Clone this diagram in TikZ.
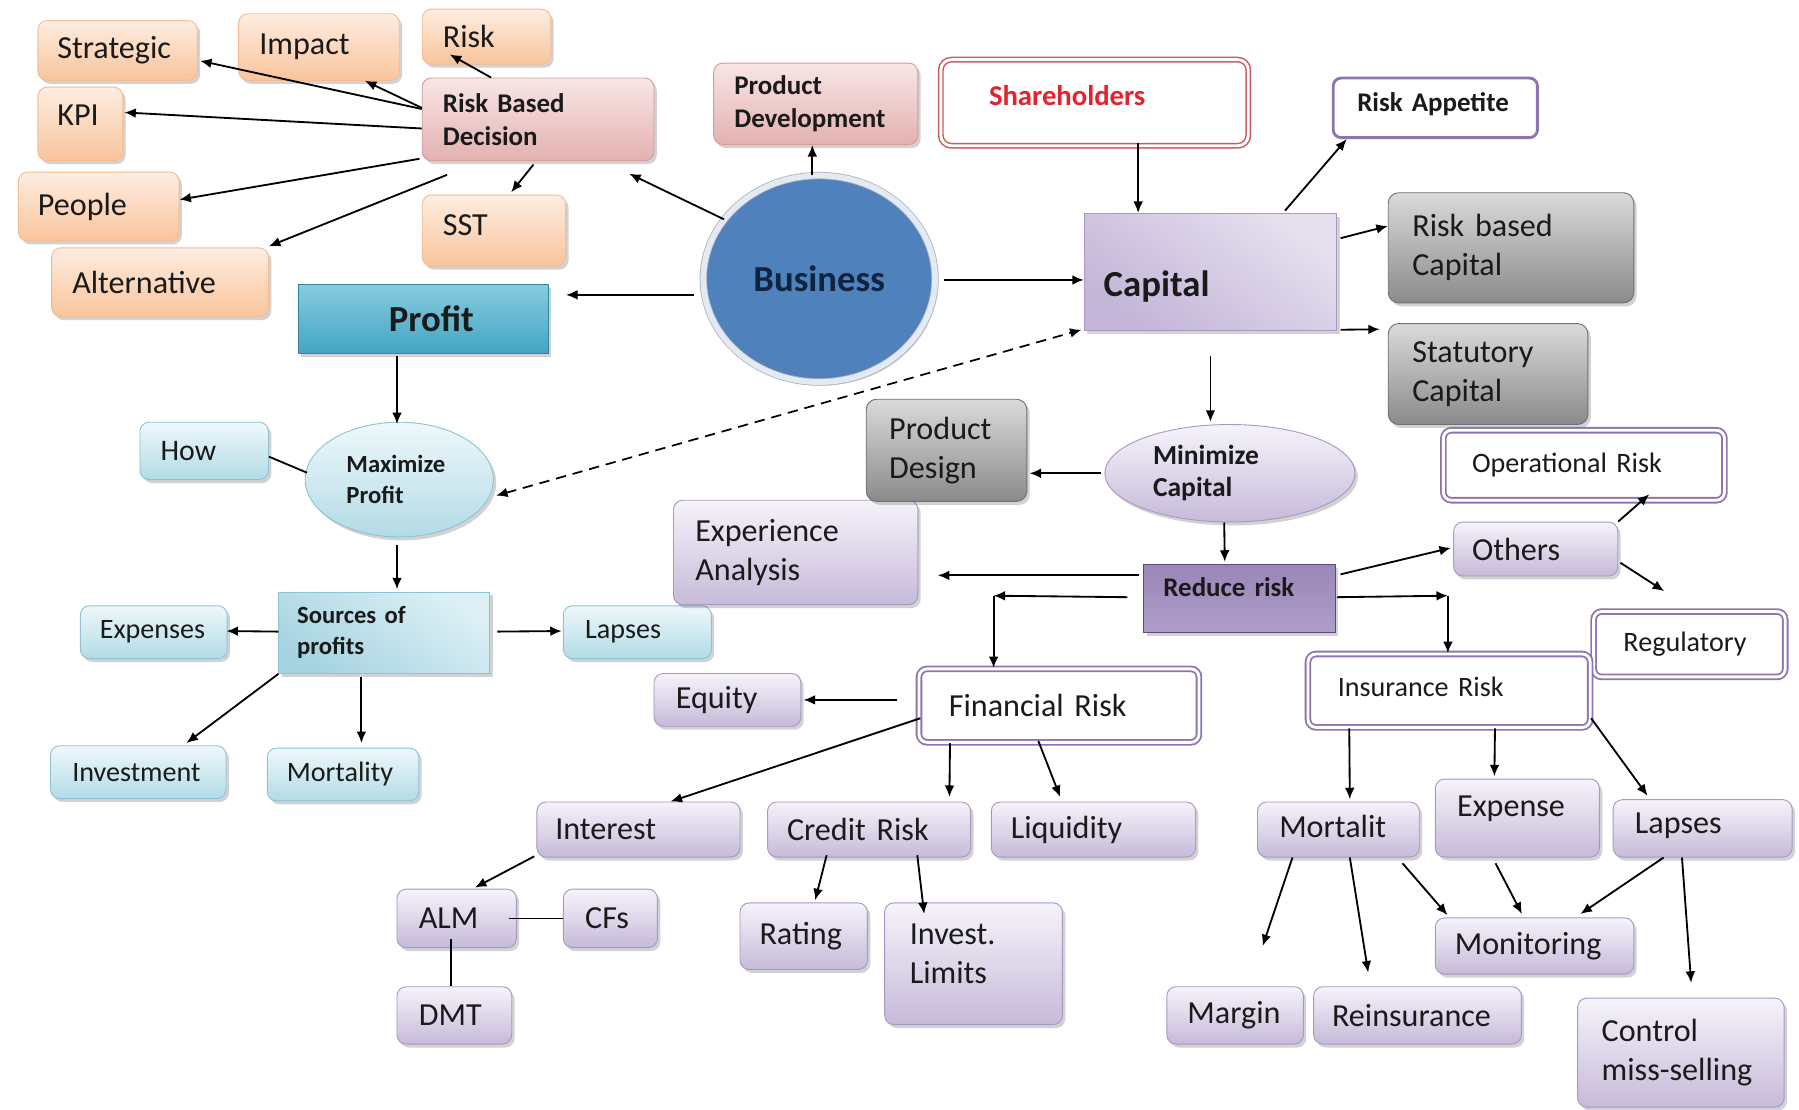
\documentclass[tikz,border=0pt]{standalone}
\usepackage{fontspec}
\setmainfont{Carlito}
\usetikzlibrary{shapes.geometric,arrows.meta,calc,shadows}
\newcommand\liftt[2]{\raisebox{#1}[\height][\depth]{#2}}
\newcommand\fR{\fontsize{28}{34}\selectfont}
\newcommand\fS{\fontsize{24.5}{30}\selectfont}
\newcommand\fB{\fontsize{23.5}{29}\selectfont\bfseries}
\newcommand\fBS{\fontsize{21.5}{27}\selectfont\bfseries}
\newcommand\fBIG{\fontsize{32}{38}\selectfont\bfseries}
\definecolor{txt}{HTML}{1A1A1A}
\definecolor{orT}{HTML}{FDEDE1}
\definecolor{orB}{HTML}{F9C49B}
\definecolor{orD}{HTML}{F4BC92}
\definecolor{pkT}{HTML}{F9E6E6}
\definecolor{pkB}{HTML}{E3B1B0}
\definecolor{pkD}{HTML}{D49C9B}
\definecolor{grT}{HTML}{DADADA}
\definecolor{grM}{HTML}{F8F8F8}
\definecolor{grB}{HTML}{8A8A8A}
\definecolor{grD}{HTML}{707070}
\definecolor{lvT}{HTML}{F6F3FA}
\definecolor{lvB}{HTML}{C6BAD9}
\definecolor{lvD}{HTML}{A997C4}
\definecolor{blT}{HTML}{EEF8FB}
\definecolor{blB}{HTML}{B2DBE6}
\definecolor{blD}{HTML}{8EC3D4}
\definecolor{purD}{HTML}{8C75B0}
\definecolor{shR}{HTML}{C95B58}
\definecolor{shTxt}{HTML}{E3232B}
\definecolor{busF}{HTML}{4F81BD}
\definecolor{busT}{HTML}{0F2440}
\definecolor{busRing}{HTML}{E2EAF5}
\definecolor{capT}{HTML}{E6E0EF}
\definecolor{capB}{HTML}{C3B5D8}
\definecolor{prD}{HTML}{31859C}
\definecolor{prT}{HTML}{86CCDF}
\definecolor{prB}{HTML}{43A5C2}
\definecolor{srT}{HTML}{DDF0F6}
\definecolor{srB}{HTML}{A6D4E1}
\definecolor{rdD}{HTML}{5F497A}
\definecolor{rdT}{HTML}{9A86B8}
\definecolor{rdM}{HTML}{7A5F9F}
\definecolor{rdB}{HTML}{AE9DC9}
\tikzset{
  B/.style n args={3}{minimum height=#2, text width=#1-2*#3, inner xsep=#3, inner ysep=0pt, align=left},
  shd/.style={drop shadow={shadow xshift=2.5pt,shadow yshift=-3pt,opacity=0.25,fill=black!70}},
  orng/.style={rounded corners=8pt, draw=orD, line width=0.8pt, top color=orT, bottom color=orB, shd, text=txt, font=\fR},
  pinkst/.style={rounded corners=8pt, draw=pkD, line width=0.8pt, top color=pkT, bottom color=pkB, shd, text=txt},
  gry/.style={rounded corners=9pt, draw=grD, line width=0.8pt, top color=grT, middle color=grM, bottom color=grB, shd, text=txt, font=\fR},
  lav/.style={rounded corners=8pt, draw=lvD, line width=0.8pt, top color=lvT, bottom color=lvB, shd, text=txt, font=\fR},
  blu/.style={rounded corners=8pt, draw=blD, line width=0.8pt, top color=blT, bottom color=blB, shd, text=txt, font=\fS},
  dbl/.style={rounded corners=7pt, draw=purD, double=white, double distance=2.5pt, line width=1.6pt, fill=white, text=txt, font=\fR},
  dblr/.style={rounded corners=9pt, draw=shR, double=white, double distance=2.5pt, line width=1.3pt, fill=white},
  appst/.style={rounded corners=7pt, draw=purD, line width=2.5pt, fill=white, text=txt},
  capst/.style={draw=lvD, line width=0.8pt, top color=capT, bottom color=capB, shading angle=-35, shd, text=txt},
  profst/.style={draw=prD, line width=0.8pt, top color=prT, bottom color=prB, shd, text=txt},
  srcst/.style={draw=blD, line width=0.8pt, top color=srT, bottom color=srB, shading angle=-35, shd, text=txt},
  redst/.style={draw=rdD, line width=0.8pt, top color=rdT, middle color=rdM, bottom color=rdB, shd, text=txt},
  maxst/.style={ellipse, minimum width=164, minimum height=100, inner sep=0pt, text width=92, align=left, draw=blD, line width=0.8pt, top color=blT, bottom color=blB, shd, text=txt, font=\fBS},
  minst/.style={ellipse, minimum width=218, minimum height=85, inner sep=0pt, text width=134, align=left, draw=lvD, line width=0.8pt, top color=lvT, bottom color=lvB, shd, text=txt, font=\fontsize{24}{28}\selectfont\bfseries},
  busst/.style={ellipse, minimum width=202, minimum height=180, inner sep=0pt, fill=busF, draw=black!30, double=busRing, double distance=5pt, line width=0.7pt, shd, text=busT, font=\fBIG},
  arr/.style={draw=black, line width=1.6pt, -{Latex[length=10pt,width=8.5pt]}},
  ln/.style={draw=black, line width=1.6pt},
  dsh/.style={draw=black, line width=1.5pt, dash pattern=on 9pt off 6pt, {Latex[length=10pt,width=8.5pt]}-{Latex[length=10pt,width=8.5pt]}}
}
\begin{document}
\begin{tikzpicture}[x=1pt,y=-1pt]
\fill[white] (0,0) rectangle (1568,967);
\useasboundingbox (0,0) rectangle (1568,967);

% orange group
\node[orng,B={139}{52}{17}] (strat) at (102.5,44) {Strategic};
\node[orng,B={140}{58}{18}] (impact) at (278,41) {Impact};
\node[orng,B={112}{48}{18}] (risk) at (424,32) {Risk};
\node[orng,B={74}{64}{17}] (kpi) at (70,108) {\liftt{8pt}{KPI}};
\node[pinkst,B={202}{72}{18},font=\fB] (rbd) at (469,104) {Risk Based\\Decision};
\node[orng,B={140}{60}{17}] (people) at (86,180) {People};
\node[orng,B={125}{62}{18}] (sst) at (430.5,201) {\liftt{5pt}{SST}};
\node[orng,B={189}{60}{18}] (alt) at (139.5,246) {Alternative};

% top centre
\node[pinkst,B={178}{71}{18},font=\fB] (pdev) at (711,90.5) {Product\\Development};
\node[dblr,B={268}{75}{42},font=\fontsize{25}{30}\selectfont\bfseries,text=shTxt] (share) at (954,89.5) {\liftt{6pt}{Shareholders}};
\node[appst,B={178}{52}{21},font=\fB] (appet) at (1251,94) {\liftt{3pt}{Risk Appetite}};
\node[busst] (bus) at (714,243) {Business};
\node[capst,B={220}{102}{17},font=\fBIG] (cap) at (1055,237) {\liftt{-13pt}{Capital}};
\node[gry,B={214}{96}{21}] (rbc) at (1317,216) {Risk based\\Capital};
\node[gry,B={174}{88}{21}] (stat) at (1297,326) {Statutory\\Capital};

% profit branch
\node[profst,B={218}{60}{79},font=\fBIG] (profit) at (369,278) {Profit};
\node[maxst] (maxp) at (348,418) {Maximize\\Profit};
\node[blu,B={112}{50}{18},font=\fontsize{26}{31}\selectfont] (how) at (178,393) {How};
\node[srcst,B={184}{71}{16},font=\fBS] (src) at (335,551.5) {Sources of\\profits};
\node[blu,B={128}{46}{17}] (exps) at (134,551) {Expenses};
\node[blu,B={129}{46}{19}] (lapl) at (555.5,551) {Lapses};
\node[blu,B={153}{46}{19}] (inv) at (120.5,673) {Investment};
\node[blu,B={132}{46}{17}] (mort) at (299,675) {Mortality};

% capital branch
\node[lav,B={213}{91}{19}] (expa) at (693.5,481.5) {Experience\\Analysis};
\node[gry,B={140}{89}{20}] (pdes) at (825,392.5) {Product\\Design};
\node[minst] (minc) at (1072,412.5) {Minimize\\Capital};
\node[redst,B={167}{59}{17},font=\fB] (red) at (1080.5,521.5) {\liftt{10pt}{Reduce risk}};
\node[dbl,B={245}{61}{25},font=\fS] (oper) at (1380.5,405.5) {Operational Risk};
\node[lav,B={143}{47}{16}] (oth) at (1338.5,478.5) {Others};
\node[dbl,B={167}{57}{26},font=\fS] (reg) at (1472.5,561.5) {Regulatory};
\node[lav,B={128}{46}{19}] (eq) at (634,610) {Equity};
\node[dbl,B={244}{64}{26}] (fin) at (923,615) {Financial Risk};
\node[dbl,B={246}{64}{26},font=\fS] (ins) at (1263,602) {\liftt{3pt}{Insurance Risk}};
\node[lav,B={177}{48}{16}] (intr) at (556.5,723) {Interest};
\node[lav,B={177}{48}{17}] (cred) at (757.5,723) {Credit Risk};
\node[lav,B={178}{48}{17}] (liq) at (953,723) {Liquidity};
\node[lav,B={104}{51}{19}] (alm) at (398,800.5) {ALM};
\node[lav,B={82}{51}{19}] (cfs) at (532,800.5) {CFs};
\node[lav,B={100}{50}{19}] (dmt) at (396,885) {DMT};
\node[lav,B={111}{58}{17}] (rat) at (700.5,816) {Rating};
\node[lav,B={155}{106}{22},text depth=52pt] (invl) at (848.5,840) {Invest.\\Limits};
\node[lav,B={141}{48}{19}] (mortr) at (1166.5,723) {\liftt{3pt}{Mortalit}};
\node[lav,B={143}{68}{19}] (expr) at (1322.5,713) {\liftt{8pt}{Expense}};
\node[lav,B={156}{50}{19}] (lapr) at (1484,722) {\liftt{2pt}{Lapses}};
\node[lav,B={173}{49}{17}] (mon) at (1337.5,824.5) {Monitoring};
\node[lav,B={119}{50}{18}] (marg) at (1076.5,885) {Margin};
\node[lav,B={181}{50}{16}] (rein) at (1235.5,885) {Reinsurance};
\node[lav,B={180}{95}{21}] (ctrl) at (1465,917.5) {Control\\miss-selling};

% connectors: risk based decision
\draw[arr] ($(rbd.west)+(0,-9)$) -- ($(strat.east)+(2,9)$);
\draw[arr] ($(rbd.west)+(0,-10)$) -- ($(impact.south)+(40,0)$);
\draw[arr] ($(rbd.north)+(-41,0)$) -- ($(risk.south)+(-32,-9)$);
\draw[arr] ($(rbd.west)+(0,8)$) -- ($(kpi.east)+(1,-10)$);
\draw[arr] ($(rbd.south west)+(-2,-2)$) -- ($(people.east)+(0,-6)$);
\draw[arr] ($(rbd.south west)+(22,12)$) -- ($(alt.north east)+(0,-1)$);
\draw[arr] ($(rbd.south)+(-4,3)$) -- ($(sst.north)+(15,-2)$);

% business
\draw[arr] (bus.148) -- ($(rbd.south east)+(-22,11)$);
\draw[arr] ($(bus.west)+(-8,14)$) -- ($(profit.east)+(15,-21)$);
\draw[arr] ($(bus.north)+(-6,0)$) -- ($(pdev.south)+(-3,0)$);
\draw[arr] ($(bus.east)+(7,1)$) -- ($(cap.west)+(0,7)$);

% capital
\draw[arr] ($(share.south)+(38,-3)$) -- ($(cap.north)+(-63,0)$);
\draw[arr] ($(cap.north)+(65,-2)$) -- ($(appet.south west)+(13,0)$);
\draw[arr] ($(cap.north east)+(3,22)$) -- ($(rbc.west)+(0,-19)$);
\draw[arr] ($(cap.south east)+(3,-1)$) -- ($(stat.west)+(-7,-39)$);
\draw[arr] ($(cap.south)+(0,22)$) -- ($(minc.north)+(-17,-2)$);
\draw[dsh] ($(maxp.east)+(2,14)$) -- ($(cap.south west)+(-2,-1)$);

% profit branch
\draw[arr] ($(profit.south)+(-23,2)$) -- ($(maxp.north)+(-2,2)$);
\draw[ln] ($(how.east)+(0,5)$) -- ($(maxp.west)+(2,-6)$);
\draw[arr] ($(maxp.south)+(-2,7)$) -- ($(src.north)+(11,-2)$);
\draw[arr] ($(src.west)+(0,-1)$) -- ($(exps.east)+(-1,-1)$);
\draw[arr] ($(src.east)+(6,-1)$) -- ($(lapl.west)+(-1,-1)$);
\draw[arr] (src.south west) -- ($(inv.north)+(42,-2)$);
\draw[arr] ($(src.south)+(-20,3)$) -- ($(mort.north)+(16,-4)$);

% minimize capital / reduce risk
\draw[arr] ($(minc.west)+(-3,0)$) -- ($(pdes.east)+(2,20)$);
\draw[arr] ($(minc.south)+(-5,0)$) -- ($(red.north)+(-13,-2)$);
\draw[arr] ($(red.west)+(-4,-20)$) -- ($(expa.east)+(17,20)$);
\coordinate (fc) at ($(fin.north)+(-57,-63)$);
\draw[arr] ($(red.west)+(-14,-1)$) -- (fc);
\draw[arr] (fc) -- ($(fin.north)+(-57,0)$);
\coordinate (ic) at ($(ins.north)+(-1,-50)$);
\draw[arr] ($(red.east)+(1,-1)$) -- (ic);
\draw[arr] (ic) -- ($(ins.north)+(-1,0)$);
\draw[arr] ($(red.north east)+(4,9)$) -- ($(oth.west)+(-2,-1)$);
\draw[arr] (oth.north east) -- ($(oper.south)+(57,-6)$);
\coordinate (regfree) at ($(reg.north)+(-22,-17)$);
\draw[arr] ($(oth.east)+(2,12)$) -- (regfree);

% financial risk
\draw[arr] ($(fin.west)+(-18,-5)$) -- ($(eq.east)+(2,0)$);
\draw[arr] ($(fin.west)+(2,11)$) -- ($(intr.north)+(28,0)$);
\draw[arr] ($(fin.south)+(-95,0)$) -- ($(cred.north)+(70,-4)$);
\draw[arr] ($(fin.south)+(-18,-2)$) -- ($(liq.north)+(-29,-4)$);
\draw[arr] ($(intr.south west)+(-2,-1)$) -- ($(alm.north)+(16,-1)$);
\draw[ln] ($(alm.east)+(-7,0)$) -- (cfs.west);
\draw[ln] ($(alm.south)+(-5,-8)$) -- ($(dmt.north)+(-3,0)$);
\draw[arr] ($(cred.south)+(-37,-2)$) -- ($(rat.north)+(10,-2)$);
\draw[arr] ($(cred.south)+(42,-2)$) -- ($(invl.north)+(-43,10)$);

% insurance risk
\draw[arr] ($(ins.south)+(-87,0)$) -- ($(mortr.north)+(10,-2)$);
\draw[arr] ($(ins.south)+(40,0)$) -- ($(expr.north)+(-20,-2)$);
\draw[arr] ($(ins.east)+(0,24)$) -- ($(lapr.north)+(-48,-3)$);
\coordinate (margfree) at ($(marg.north)+(24,-35)$);
\draw[arr] ($(mortr.south)+(-40,0)$) -- (margfree);
\coordinate (reinfree) at ($(rein.north)+(-43,-12)$);
\draw[arr] ($(mortr.south)+(10,0)$) -- (reinfree);
\draw[arr] ($(mortr.south east)+(-15,5)$) -- ($(mon.north west)+(11,-2)$);
\draw[arr] ($(expr.south)+(-19,5)$) -- ($(mon.north)+(-11,-3)$);
\draw[arr] ($(lapr.south)+(-34,0)$) -- ($(mon.north)+(40,-3)$);
\coordinate (ctrlfree) at ($(ctrl.north)+(9,-13)$);
\draw[arr] ($(lapr.south)+(-18,0)$) -- (ctrlfree);
\end{tikzpicture}
\end{document}
